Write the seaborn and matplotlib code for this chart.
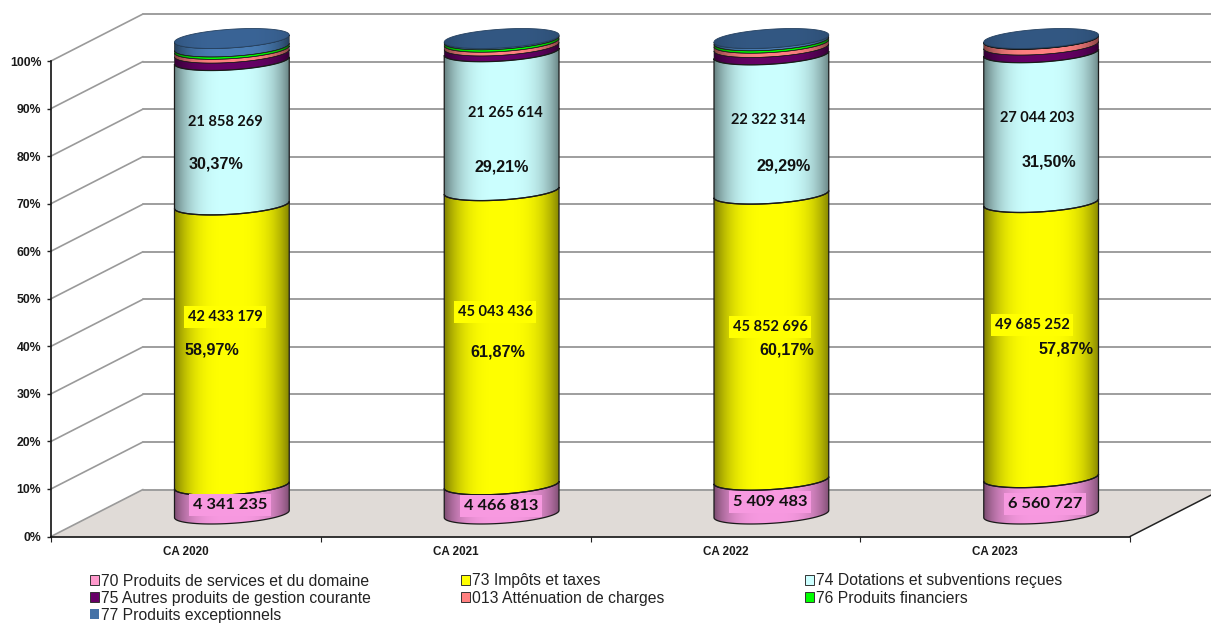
import numpy as np
import matplotlib
matplotlib.use("Agg")
import matplotlib.pyplot as plt
from matplotlib.patches import PathPatch, Patch, Polygon
from matplotlib.path import Path
from matplotlib.transforms import Affine2D
from matplotlib.colors import to_rgb
import seaborn as sns

# ---------- data ----------
categories = ["CA 2020", "CA 2021", "CA 2022", "CA 2023"]
series_names = ["70 Produits de services et du domaine", "73 Impôts et taxes",
                "74 Dotations et subventions reçues", "75 Autres produits de gestion courante",
                "013 Atténuation de charges", "76 Produits financiers", "77 Produits exceptionnels"]
pct_70 = [6.03, 6.14, 7.10, 7.64]
pct_73 = [58.97, 61.87, 60.17, 57.87]
pct_74 = [30.37, 29.21, 29.29, 31.50]
pct_75 = [1.55, 1.20, 1.55, 1.60]
pct_013 = [0.80, 0.80, 0.90, 1.20]
pct_76 = [0.50, 0.50, 0.50, 0.05]
pct_77 = [1.78, 0.28, 0.49, 0.14]
amount_70 = ["4 341 235", "4 466 813", "5 409 483", "6 560 727"]
amount_73 = ["42 433 179", "45 043 436", "45 852 696", "49 685 252"]
amount_74 = ["21 858 269", "21 265 614", "22 322 314", "27 044 203"]
pct_text_73 = ["58,97%", "61,87%", "60,17%", "57,87%"]
pct_text_74 = ["30,37%", "29,21%", "29,29%", "31,50%"]
series_colors = ["#F799E0", "#FFFF00", "#CCFFFF", "#660066", "#FF8080", "#00FF00", "#4A7DB5"]
legend_colors = ["#FF99CC", "#FFFF00", "#CCFFFF", "#660066", "#FF8080", "#00FF00", "#4572A7"]
top_colors = ["#3A6496", "#335883", "#335883", "#335883"]

# ---------- layout (pixels) ----------
W, H = 1211, 623
AX_L, AX_R, AX_T, AX_B = 51, 1130, 61, 536.5
DEPTH_X, DEPTH_Y = 92, 47
CYL_DX, CYL_DY = 46, 22.5
SEMI_A, SEMI_B, TILT = 57.5, 9.3, np.radians(3.7)
label_px_74 = [(225, 122), (505, 113), (768, 120), (1037, 118)]
label_px_73 = [(225, 317), (495, 312), (770, 327), (1032, 325)]
label_px_70 = [(230, 505), (501, 506), (770, 502), (1045, 504)]
pct_px_74 = [(216, 164), (502, 167), (784, 166), (1049, 162)]
pct_px_73 = [(212, 350), (498, 352), (787, 350), (1066, 349)]

sns.set_theme(style="white")
plt.rcParams["font.family"] = ["Liberation Sans", "DejaVu Sans"]

fig = plt.figure(figsize=(W / 100, H / 100), dpi=100)
fig.patch.set_facecolor("white")
ax = fig.add_axes([AX_L / W, 1 - AX_B / H, (AX_R - AX_L) / W, (AX_B - AX_T) / H])
ax.patch.set_alpha(0)

series = np.array([pct_70, pct_73, pct_74, pct_75, pct_013, pct_76, pct_77])
cum = np.vstack([np.zeros(4), np.cumsum(series, axis=0)])
cum = cum / cum[-1] * 100

ux = (AX_R - AX_L) / 4.0
uy = (AX_B - AX_T) / 100.0
cyl_tf = Affine2D().translate(CYL_DX, CYL_DY)
wall_tf = Affine2D().translate(DEPTH_X, DEPTH_Y)
to_cyl = ax.transData + cyl_tf
to_wall = ax.transData + wall_tf

t_r = np.arctan2(-SEMI_B * np.sin(TILT), SEMI_A * np.cos(TILT))


def ell(i, v, t):
    X = SEMI_A * np.cos(t) * np.cos(TILT) - SEMI_B * np.sin(t) * np.sin(TILT)
    Y = SEMI_A * np.cos(t) * np.sin(TILT) + SEMI_B * np.sin(t) * np.cos(TILT)
    return np.column_stack([i + X / ux, v + Y / uy])


def front_arc(i, v):
    return ell(i, v, np.linspace(np.pi + t_r, 2 * np.pi + t_r, 70))


def gradient(color, dark=0.5):
    rgb = np.array(to_rgb(color))
    u = np.linspace(-1, 1, 240)
    shade = np.where(u < 0, 1 - (1 - dark) * np.abs(u) ** 3.2, 1 - (1 - dark * 1.05) * np.abs(u) ** 3.2)
    return (shade[:, None] * rgb)[None, :, :]


# ---------- floor and wall ----------
floor = Polygon([(-0.5, 0), (3.5, 0), (3.5 + DEPTH_X / ux, DEPTH_Y / uy), (-0.5 + DEPTH_X / ux, DEPTH_Y / uy)],
                closed=True, facecolor="#E0DBD7", edgecolor="none", zorder=0.5, clip_on=False)
ax.add_patch(floor)
for v in range(0, 101, 10):
    ax.plot([-0.5, -0.5 + DEPTH_X / ux], [v, v + DEPTH_Y / uy], color="#9A9A9A", lw=1.2, clip_on=False, zorder=1)
    ax.plot([-0.5, 3.5], [v, v], color="#9E9E9E", lw=1.4, clip_on=False, zorder=1, transform=to_wall)
ax.plot([3.5, 3.5 + DEPTH_X / ux], [0, DEPTH_Y / uy], color="#222222", lw=1.1, clip_on=False, zorder=1.5)

# ---------- cylinders: cumulative bars through seaborn, overlaid tallest first ----------
bar_width = 2 * SEMI_A / ux
for k in range(6, -1, -1):
    sns.barplot(x=categories, y=cum[k + 1], color=series_colors[k], saturation=1, width=bar_width,
                order=categories, ax=ax, zorder=2 + (6 - k) * 0.01)
    bars = list(ax.containers[-1])
    for i, bar in enumerate(bars):
        lo = front_arc(i, cum[k, i])
        hi = front_arc(i, cum[k + 1, i])[::-1]
        verts = np.vstack([lo, hi, lo[:1]])
        edge_w = 0.9 if k < 3 else 0.45
        outline = PathPatch(Path(verts, closed=True), transform=to_cyl, facecolor="none",
                            edgecolor="#1A1A1A", lw=edge_w, zorder=4 + (6 - k) * 0.01, clip_on=False)
        ax.add_patch(outline)
        bar.set_transform(to_cyl)
        bar.set_clip_path(outline.get_path(), to_cyl)
        bar.set_clip_box(fig.bbox)
        x0, x1 = i - SEMI_A / ux, i + SEMI_A / ux
        im = ax.imshow(gradient(series_colors[k]), extent=(x0, x1, cum[k, i] - 5, cum[k + 1, i] + 5),
                       aspect="auto", transform=to_cyl, zorder=3 + (6 - k) * 0.01, interpolation="bilinear")
        im.set_clip_box(fig.bbox)
        im.set_clip_path(outline.get_path(), to_cyl)

# top caps
for i in range(4):
    pts = ell(i, cum[-1, i], np.linspace(0, 2 * np.pi, 140))
    cap = PathPatch(Path(np.vstack([pts, pts[:1]]), closed=True), transform=to_cyl, facecolor="none",
                    edgecolor="#24405F", lw=0.6, zorder=5, clip_on=False)
    ax.add_patch(cap)
    im = ax.imshow(gradient(top_colors[i], 0.85), extent=(i - SEMI_A / ux, i + SEMI_A / ux, 95, 105),
                   aspect="auto", transform=to_cyl, zorder=4.9, interpolation="bilinear")
    im.set_clip_box(fig.bbox)
    im.set_clip_path(cap.get_path(), to_cyl)

# ---------- axes ----------
ax.set_xlim(-0.5, 3.5)
ax.set_ylim(0, 100)
ax.set_xlabel("")
ax.set_ylabel("")
ax.set_yticks(range(0, 101, 10))
ax.set_yticklabels([f"{v}%" for v in range(0, 101, 10)], fontsize=8.8, fontweight="bold", color="#1A1A1A")
ax.set_xticks(range(4))
ax.set_xticklabels(categories, fontsize=8.4, fontweight="bold", color="#1A1A1A")
ax.set_xticks(np.arange(-0.5, 4, 1), minor=True)
ax.tick_params(axis="x", which="major", length=0, pad=6.5)
ax.tick_params(axis="x", which="minor", length=3.5, width=0.8, color="#222222", bottom=True)
ax.tick_params(axis="y", which="major", left=True, length=3, width=1, color="#222222", pad=4)
for side in ("top", "right"):
    ax.spines[side].set_visible(False)
for side in ("left", "bottom"):
    ax.spines[side].set_visible(True)
    ax.spines[side].set_color("#111111")
    ax.spines[side].set_linewidth(1.2)
    ax.spines[side].set_zorder(1.6)


# ---------- data labels ----------
def px_text(p, s, **kw):
    fig.text(p[0] / W, 1 - p[1] / H, s, ha="center", va="center", zorder=10, color="#111111", **kw)


label_font = ["Lato", "DejaVu Sans"]
for i in range(4):
    px_text(label_px_74[i], amount_74[i], fontsize=10.5, fontweight="bold", family=label_font)
    px_text(label_px_73[i], amount_73[i], fontsize=10.5, fontweight="bold", family=label_font,
            bbox=dict(facecolor="#FFFF00", edgecolor="none", pad=2.6))
    px_text(label_px_70[i], amount_70[i], fontsize=11.8, fontweight="bold", family=label_font,
            bbox=dict(facecolor="#F799E0", edgecolor="none", pad=3))
    px_text(pct_px_74[i], pct_text_74[i], fontsize=11.6, fontweight="bold")
    px_text(pct_px_73[i], pct_text_73[i], fontsize=11.6, fontweight="bold")

# ---------- legend (three columns) ----------
handles = [Patch(facecolor=c, edgecolor="#333333" if j < 6 else "none", lw=0.7) for j, c in enumerate(legend_colors)]
columns = [((0, 3, 6), 90), ((1, 4), 461), ((2, 5), 805)]
for idx, x_px in columns:
    leg = fig.legend([handles[j] for j in idx], [series_names[j] for j in idx],
                     loc="upper left", bbox_to_anchor=(x_px / W, 1 - 573.5 / H), frameon=False,
                     fontsize=11.3, labelcolor="#222222", handlelength=0.6, handleheight=0.6,
                     handletextpad=0.12, labelspacing=0.14, borderpad=0, borderaxespad=0)

fig.savefig("out.png", dpi=100)
